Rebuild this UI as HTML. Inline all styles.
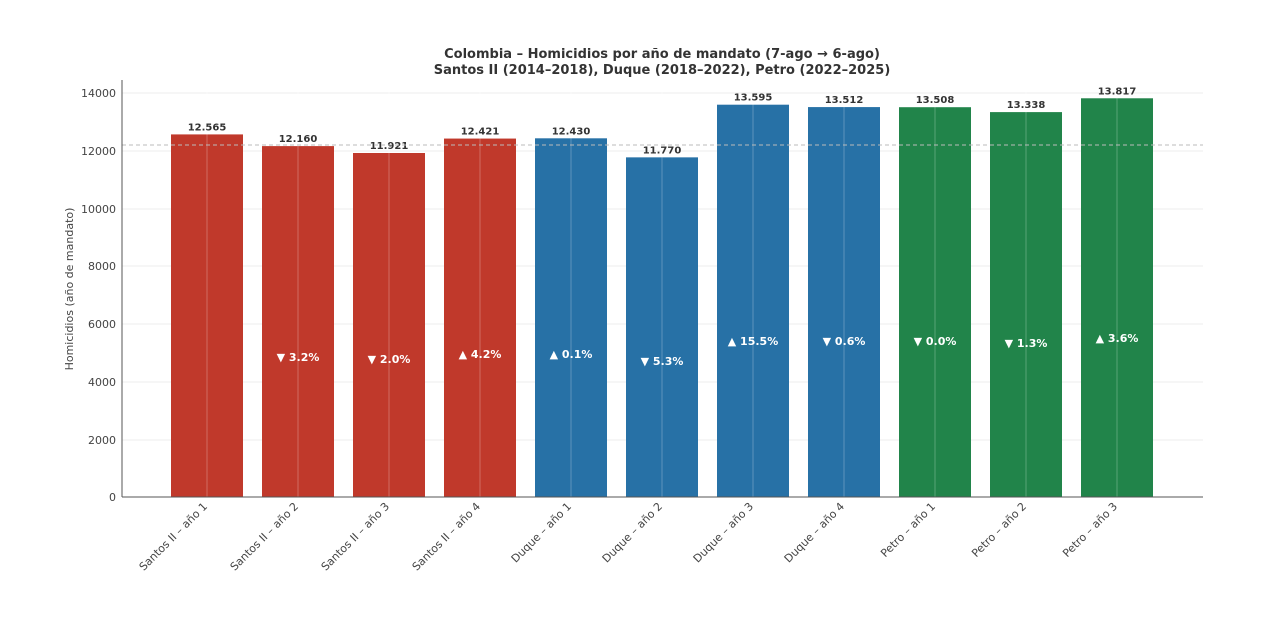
<!DOCTYPE html>
<html><head><meta charset="utf-8"><style>body{margin:0;background:#fff}svg{display:block}</style></head>
<body>
<svg width="1280" height="618" xmlns="http://www.w3.org/2000/svg" font-family="'DejaVu Sans','Liberation Sans',sans-serif">
<rect width="1280" height="618" fill="#fff"/>
<text x="662" y="58" text-anchor="middle" font-size="13" font-weight="bold" fill="#333">Colombia – Homicidios por año de mandato (7-ago → 6-ago)</text>
<text x="662" y="74" text-anchor="middle" font-size="13" font-weight="bold" fill="#333">Santos II (2014–2018), Duque (2018–2022), Petro (2022–2025)</text>
<g stroke="#eee" stroke-width="1">
<line x1="122" y1="93" x2="1203" y2="93"/><line x1="122" y1="151" x2="1203" y2="151"/><line x1="122" y1="209" x2="1203" y2="209"/><line x1="122" y1="266" x2="1203" y2="266"/><line x1="122" y1="324" x2="1203" y2="324"/><line x1="122" y1="382" x2="1203" y2="382"/><line x1="122" y1="440" x2="1203" y2="440"/>
</g>
<g font-size="11" fill="#444" text-anchor="end">
<text x="116" y="97">14000</text><text x="116" y="155">12000</text><text x="116" y="213">10000</text><text x="116" y="270">8000</text><text x="116" y="328">6000</text><text x="116" y="386">4000</text><text x="116" y="444">2000</text><text x="116" y="501">0</text>
</g>
<text transform="translate(73,289) rotate(-90)" text-anchor="middle" font-size="11" fill="#444">Homicidios (año de mandato)</text>
<g id="bars"></g>
<line x1="122" y1="145" x2="1203" y2="145" stroke="#bbb" stroke-dasharray="4,3"/>
<line x1="122" y1="80" x2="122" y2="497" stroke="#555"/>
<line x1="122" y1="497" x2="1203" y2="497" stroke="#555"/>
</svg>
<script>
const d=[["Santos II – año 1",12565,"12.565","","#c0392b",0],["Santos II – año 2",12160,"12.160","▼ 3.2%","#c0392b",361],["Santos II – año 3",11921,"11.921","▼ 2.0%","#c0392b",363],["Santos II – año 4",12421,"12.421","▲ 4.2%","#c0392b",358],["Duque – año 1",12430,"12.430","▲ 0.1%","#2771a6",358],["Duque – año 2",11770,"11.770","▼ 5.3%","#2771a6",365],["Duque – año 3",13595,"13.595","▲ 15.5%","#2771a6",345],["Duque – año 4",13512,"13.512","▼ 0.6%","#2771a6",345],["Petro – año 1",13508,"13.508","▼ 0.0%","#21844a",345],["Petro – año 2",13338,"13.338","▼ 1.3%","#21844a",347],["Petro – año 3",13817,"13.817","▲ 3.6%","#21844a",342]];
let s="";
d.forEach((r,i)=>{const c=207+i*91.0;const y=497-r[1]*0.028857;
s+=`<rect x="${c-36}" y="${y}" width="72" height="${497-y}" fill="${r[4]}"/>`;
s+=`<line x1="${c}" y1="80" x2="${c}" y2="497" stroke="rgba(255,255,255,0.25)"/>`;
s+=`<text x="${c}" y="${y-4}" text-anchor="middle" font-size="10" font-weight="bold" fill="#333">${r[2]}</text>`;
if(r[3])s+=`<text x="${c}" y="${r[5]}" text-anchor="middle" font-size="11" font-weight="bold" fill="#fff">${r[3]}</text>`;
s+=`<text transform="translate(${c+1},507) rotate(-45)" text-anchor="end" font-size="11" fill="#444">${r[0]}</text>`;
});
document.getElementById("bars").innerHTML=s;
</script>
</body></html>
